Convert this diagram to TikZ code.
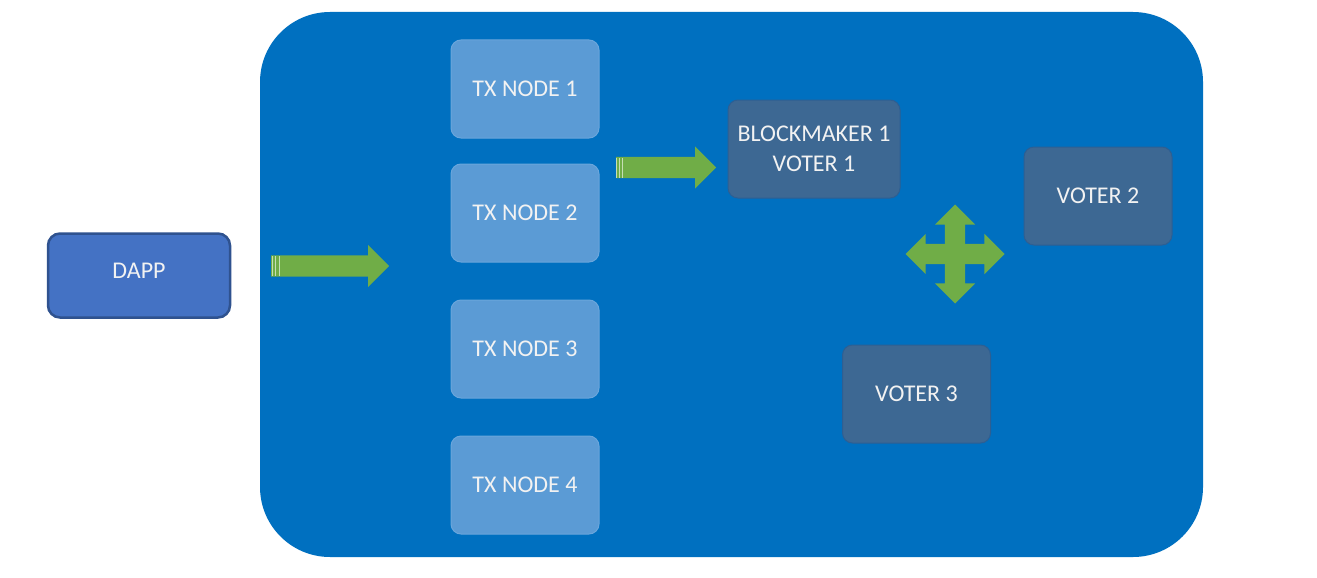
\documentclass[tikz,border=0pt]{standalone}
\usepackage{fontspec}
\setmainfont{Carlito}
\usetikzlibrary{shapes.arrows,positioning,calc}
\definecolor{netblue}{HTML}{0070C0}
\definecolor{dappblue}{HTML}{4472C4}
\definecolor{dappedge}{HTML}{2F528F}
\definecolor{txblue}{HTML}{5B9BD5}
\definecolor{txedge}{HTML}{6AA6DC}
\definecolor{votefill}{HTML}{3D6893}
\definecolor{voteedge}{HTML}{2D5F93}
\definecolor{arrowgreen}{HTML}{70AD47}
\tikzset{
  box/.style={rounded corners=10pt, text=white!95!black, align=center,
    font=\fontsize{24}{28}\selectfont, inner sep=0pt},
  txbox/.style={box, fill=txblue, draw=txedge, line width=1pt,
    minimum width=148pt, minimum height=98pt},
  votebox/.style={box, fill=votefill, draw=voteedge, line width=1pt,
    minimum height=98pt},
  blockarrow/.style={single arrow, fill=arrowgreen, inner xsep=0pt,
    inner ysep=10.5pt, single arrow head extend=10.5pt,
    single arrow head indent=0pt, anchor=tail},
  crossarrow/.style={double arrow, fill=arrowgreen, inner xsep=0pt,
    inner ysep=10pt, minimum height=99pt, double arrow head extend=10pt}
}
\begin{document}
\begin{tikzpicture}[x=1pt, y=-1pt]
  \useasboundingbox (0,0) rectangle (1317,578);
  \fill[white] (0,0) rectangle (1317,578);

  % Network area
  \fill[netblue, rounded corners=70pt] (260,12) rectangle (1203,557);

  % Client
  \node[box, fill=dappblue, draw=dappedge, line width=2.5pt,
    minimum width=182pt, minimum height=84pt, rounded corners=12pt]
    (dapp) at (139,275.5) {\raisebox{10pt}{DAPP}};

  % Transaction nodes
  \node[txbox] (tx1) at (525,89) {TX NODE 1};
  \node[txbox, below=25pt of tx1] (tx2) {TX NODE 2};
  \node[txbox, below=37pt of tx2] (tx3) {TX NODE 3};
  \node[txbox, below=37pt of tx3] (tx4) {TX NODE 4};

  % Blockmaker and voters
  \node[votebox, minimum width=172pt] (bm) at (814,149)
    {BLOCKMAKER 1\\[2pt]VOTER 1};
  \node[votebox, minimum width=148pt] (v2) at (1098,196) {VOTER 2};
  \node[votebox, minimum width=148pt] (v3) at (916.5,394) {VOTER 3};

  % Flow arrows
  \node[blockarrow, minimum height=118pt] (in) at (271,266) {};
  \node[blockarrow, minimum height=100pt] (fwd) at (616,167.5) {};
  \foreach \a/\d in {in/1, in/4, in/8, fwd/0.5, fwd/3, fwd/6}
    \draw[white!60!arrowgreen, line width=0.8pt]
      ($(\a.tail)+(\d,-10)$) -- ($(\a.tail)+(\d,10)$);

  % Consensus cross
  \coordinate (hub) at (955,254);
  \node[crossarrow] (hx) at (hub) {};
  \node[crossarrow, rotate=90] (hy) at (hub) {};
\end{tikzpicture}
\end{document}
